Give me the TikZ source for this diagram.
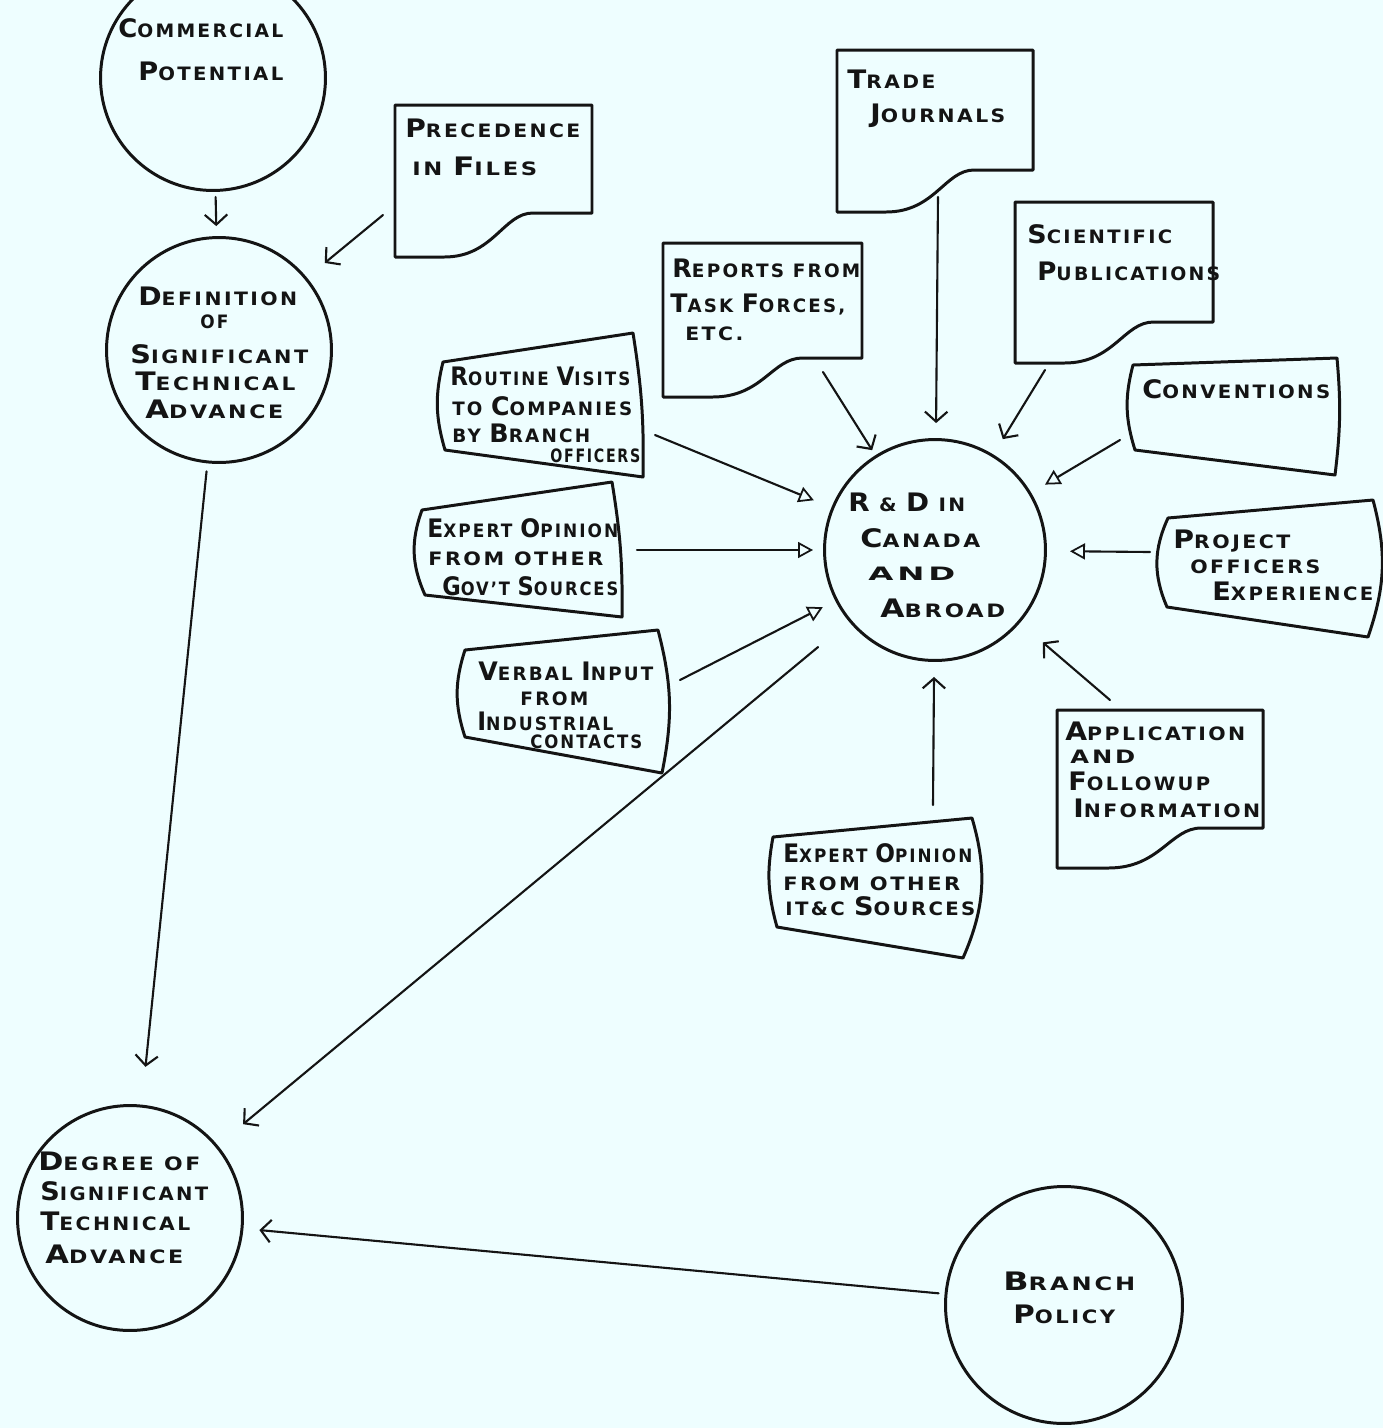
\documentclass[tikz,border=0pt]{standalone}
\usepackage{graphicx}
\usepackage{fontspec}
\setmainfont[LetterSpace=12]{DejaVu Sans}
\usetikzlibrary{arrows.meta,calc}

\definecolor{paper}{RGB}{238,254,255}
\definecolor{ink}{RGB}{20,20,20}

% larger initial letter of the hand-lettered small caps
\newcommand\ic[1]{{\fontsize{14.5pt}{15pt}\selectfont #1}}
% set a line of lettering to a given width (in drawing units)
\newlength\txtwd
\newcommand\fitto[2]{\settowidth{\txtwd}{#2}\pgfmathsetmacro\txtsx{#1*0.569055/\txtwd}\scalebox{\txtsx}[1]{#2}}
% one line of lettering: name, x, baseline y, width, text
\newcommand\tline[5]{\node[lbl] (#1) at (#2,#3) {\fitto{#4}{#5}};}

% sheet with a wavy lower edge: x1, top, x2, lower-right y, lower-left y
\newcommand\docshape[5]{%
  \pgfmathsetmacro\dsw{#3-#1}%
  \pgfmathsetmacro\dsa{#3-0.3*\dsw}%
  \pgfmathsetmacro\dsb{#3-0.45*\dsw}%
  \pgfmathsetmacro\dsc{#1+0.5*\dsw}%
  \pgfmathsetmacro\dsd{#1+0.25*\dsw}%
  \draw[outline] (#1,#2) -- (#3,#2) -- (#3,#4) -- (\dsa,#4)
    .. controls (\dsb,#4) and (\dsc,#5) .. (\dsd,#5) -- (#1,#5) -- cycle;}
% card with bowed sides: TL, TR, BR, BL, right bend, left bend
\newcommand\card[6]{%
  \draw[outline] (#1) -- (#2) to[bend left=#5] (#3) -- (#4) to[bend left=#6] (#1) -- cycle;}

\begin{document}
\begin{tikzpicture}[x=0.02cm, y=-0.02cm,
  outline/.style={draw=ink, line width=1.7pt, line join=round, line cap=round},
  ring/.style={circle, draw=ink, line width=1.7pt, inner sep=0pt},
  lbl/.style={anchor=base west, inner sep=0pt, text=ink, font=\fontsize{10.5pt}{12pt}\selectfont\bfseries},
  conn/.style={draw=ink, line width=1.2pt, line cap=round},
  barb/.style={conn, -{Straight Barb[length=2mm,width=4.5mm]}},
  otri/.style={conn, -{Triangle[open,length=3mm,width=3.2mm,line width=1pt]}}]

\useasboundingbox (0,0) rectangle (1383,1428);
\clip (0,0) rectangle (1383,1428);
\fill[paper] (0,0) rectangle (1383,1428);

% ---- circles
\node[ring, minimum size=4.5cm]  (comm) at (213,78) {};
\node[ring, minimum size=4.5cm]  (defn) at (219,350) {};
\node[ring, minimum size=4.42cm] (rd)   at (935,550) {};
\node[ring, minimum size=4.5cm]  (deg)  at (130,1218) {};
\node[ring, minimum size=4.74cm] (br)   at (1064,1305) {};

% ---- sheets
\docshape{395}{105}{592}{213}{257}
\docshape{837}{50}{1033}{170}{212}
\docshape{1015}{202}{1213}{322}{363}
\docshape{663}{243}{862}{358}{397}
\docshape{1057}{710}{1263}{828}{868}

% ---- cards
\card{443,362}{633,333}{643,477}{445,450}{5}{15}
\card{1133,365}{1337,358}{1335,475}{1135,450}{6}{16}
\card{422,510}{612,482}{622,617}{425,595}{5}{22}
\card{1168,518}{1373,500}{1368,637}{1167,607}{17}{24}
\card{465,650}{658,630}{662,773}{465,737}{13}{18}
\card{773,837}{972,818}{963,958}{777,927}{20}{13}

% ---- lettering
\tline{t-comm1}{118}{37}{165}{\ic{C}OMMERCIAL}
\tline{t-comm2}{138}{80}{145}{\ic{P}OTENTIAL}

\tline{t-prec1}{405}{137}{175}{\ic{P}RECEDENCE}
\tline{t-prec2}{412}{175}{125}{IN \ic{F}ILES}

\tline{t-trade1}{847}{88}{88}{\ic{T}RADE}
\tline{t-trade2}{870}{122}{135}{\ic{J}OURNALS}

\tline{t-sci1}{1027}{243}{145}{\ic{S}CIENTIFIC}
\tline{t-sci2}{1037}{280}{183}{\ic{P}UBLICATIONS}

\tline{t-rep1}{672}{277}{188}{\ic{R}EPORTS FROM}
\tline{t-rep2}{670}{312}{175}{\ic{T}ASK \ic{F}ORCES,}
\tline{t-rep3}{685}{340}{58}{ETC.}

\tline{t-vis1}{450}{385}{180}{\ic{R}OUTINE \ic{V}ISITS}
\tline{t-vis2}{452}{415}{180}{TO \ic{C}OMPANIES}
\tline{t-vis3}{452}{442}{138}{BY \ic{B}RANCH}
\tline{t-vis4}{550}{462}{90}{OFFICERS}

\tline{t-conv}{1142}{398}{188}{\ic{C}ONVENTIONS}

\tline{t-gov1}{427}{537}{191}{\ic{E}XPERT \ic{O}PINION}
\tline{t-gov2}{428}{565}{175}{FROM OTHER}
\tline{t-gov3}{442}{595}{176}{\ic{G}OV'T \ic{S}OURCES}

\tline{t-proj1}{1173}{548}{117}{\ic{P}ROJECT}
\tline{t-proj2}{1190}{573}{130}{OFFICERS}
\tline{t-proj3}{1212}{600}{161}{\ic{E}XPERIENCE}

\tline{t-verb1}{478}{680}{175}{\ic{V}ERBAL \ic{I}NPUT}
\tline{t-verb2}{520}{705}{68}{FROM}
\tline{t-verb3}{477}{730}{136}{\ic{I}NDUSTRIAL}
\tline{t-verb4}{530}{748}{112}{CONTACTS}

\tline{t-app1}{1065}{740}{180}{\ic{A}PPLICATION}
\tline{t-app2}{1070}{763}{65}{AND}
\tline{t-app3}{1068}{790}{142}{\ic{F}OLLOWUP}
\tline{t-app4}{1073}{817}{187}{\ic{I}NFORMATION}

\tline{t-itc1}{783}{862}{189}{\ic{E}XPERT \ic{O}PINION}
\tline{t-itc2}{783}{890}{177}{FROM OTHER}
\tline{t-itc3}{785}{915}{190}{IT\&C \ic{S}OURCES}

\tline{t-rd1}{848}{511}{117}{\ic{R} \& \ic{D} IN}
\tline{t-rd2}{860}{547}{120}{\ic{C}ANADA}
\tline{t-rd3}{868}{580}{87}{AND}
\tline{t-rd4}{880}{617}{125}{\ic{A}BROAD}

\tline{t-def1}{138}{305}{159}{\ic{D}EFINITION}
\tline{t-def2}{200}{328}{28}{OF}
\tline{t-def3}{130}{363}{178}{\ic{S}IGNIFICANT}
\tline{t-def4}{135}{390}{160}{\ic{T}ECHNICAL}
\tline{t-def5}{145}{418}{138}{\ic{A}DVANCE}

\tline{t-deg1}{38}{1170}{162}{\ic{D}EGREE OF}
\tline{t-deg2}{40}{1200}{168}{\ic{S}IGNIFICANT}
\tline{t-deg3}{40}{1230}{150}{\ic{T}ECHNICAL}
\tline{t-deg4}{45}{1263}{138}{\ic{A}DVANCE}

\tline{t-br1}{1003}{1290}{132}{\ic{B}RANCH}
\tline{t-br2}{1013}{1323}{102}{\ic{P}OLICY}

% ---- connector start points at the sheets and cards
\coordinate (prec-o)  at (383,215);
\coordinate (trade-o) at (938,197);
\coordinate (sci-o)   at (1045,370);
\coordinate (rep-o)   at (823,372);
\coordinate (vis-o)   at (655,435);
\coordinate (conv-o)  at (1120,440);
\coordinate (gov-o)   at (637,550);
\coordinate (proj-o)  at (1150,552);
\coordinate (verb-o)  at (680,680);
\coordinate (app-o)   at (1110,700);
\coordinate (itc-o)   at (933,805);

% ---- connectors
\draw[barb, shorten <=0.1cm, shorten >=0.2cm] (comm) -- (defn);
\draw[barb, shorten >=0.46cm] (prec-o) -- (defn);

\draw[barb, shorten >=0.3cm]  (trade-o) -- (rd);
\draw[barb, shorten >=0.36cm] (sci-o) -- (rd);
\draw[barb, shorten >=0.12cm] (rep-o) -- (rd);
\draw[otri, shorten >=0.38cm] (vis-o) -- (rd);
\draw[otri, shorten >=0.32cm] (conv-o) -- (rd);
\draw[otri, shorten >=0.2cm]  (gov-o) -- (rd);
\draw[otri, shorten >=0.46cm] (proj-o) -- (rd);
\draw[otri, shorten >=0.28cm] (verb-o) -- (rd);
\draw[barb, shorten >=0.6cm]  (app-o) -- (rd);
\draw[barb, shorten >=0.3cm]  (itc-o) -- (rd);

\draw[barb, shorten <=0.8cm, shorten >=0.66cm] (rd) -- (deg);
\draw[barb, shorten <=0.16cm, shorten >=0.76cm] (defn) -- (deg);
\draw[barb, shorten <=0.12cm, shorten >=0.32cm] (br) -- (deg);

\end{tikzpicture}
\end{document}
